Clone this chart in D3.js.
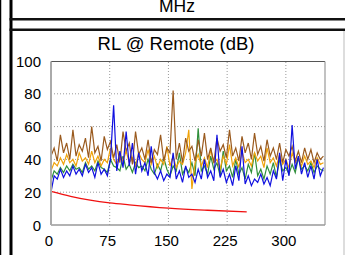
<!DOCTYPE html>
<html>
<head>
<meta charset="utf-8">
<script src="https://cdn.jsdelivr.net/npm/d3@7"></script>
<style>
  body { margin: 0; background: #fff; }
  svg { display: block; font-family: "Liberation Sans", Arial, sans-serif; }
</style>
</head>
<body>
<svg></svg>
<script>
let width = 345;
let height = 255;

// sweep step in MHz, traces start at 0
let step = 4;

let blue = [20,30,28,34,29,33,30,36,31,34,30,37,32,35,29,38,31,34,30,40,73,33,45,35,57,36,50,31,44,33,
    38,30,48,32,28,33,27,31,29,44,28,33,26,36,29,31,26,34,28,40,29,33,27,55,29,34,26,31,24,36,
    27,48,25,30,24,28,26,31,25,29,24,33,28,44,27,40,30,61,34,42,31,38,29,36,28,40,30,35];
let green = [27,33,31,35,32,36,33,37,34,35,32,38,34,36,33,39,35,34,32,40,36,35,33,42,34,37,32,38,35,36,
    33,40,34,31,37,33,41,34,30,36,33,44,31,35,32,38,30,59,33,36,31,42,34,38,30,45,33,36,29,40,
    31,35,28,37,32,44,30,34,28,36,31,38,29,40,33,35,31,37,32,41,34,36,33,38,32,36,34,33];
let orange = [33,38,36,41,37,43,38,40,36,44,39,41,37,45,38,42,36,40,38,47,40,37,43,39,45,38,41,36,44,40,
    38,46,37,42,35,40,37,48,36,42,35,39,37,44,58,22,38,43,36,41,35,46,38,40,34,42,37,49,36,41,
    35,45,38,40,36,44,39,42,35,47,38,41,36,43,37,40,35,44,38,41,36,42,37,39,35,41,37,38];
let brown = [42,47,39,55,44,50,40,58,42,49,45,53,41,60,44,48,39,54,46,51,41,49,38,57,45,50,37,57,43,47,
    40,52,38,46,43,55,39,47,44,82,40,50,38,53,45,48,39,52,42,56,40,47,38,53,45,49,41,58,42,47,
    39,54,44,50,40,56,43,48,39,52,42,47,40,50,38,46,42,48,39,45,38,47,40,46,38,44,40,42];

// limit line
let limitFreq = [0, 25, 50, 75, 100, 150, 200, 250];
let limitVal = [20.5, 17.5, 15.2, 13.5, 12.3, 10.3, 9.0, 8.0];

let xTicks = [0, 75, 150, 225, 300];
let yTicks = [0, 20, 40, 60, 80, 100];

let svg = d3.select('svg')
    .attr('width', width)
    .attr('height', height);

// outer panel frames
svg.append('line').attr('x1', 0.5).attr('x2', 0.5).attr('y1', 0).attr('y2', height)
    .attr('stroke', '#000').attr('stroke-width', 1.5);
svg.append('line').attr('x1', 11).attr('x2', 11).attr('y1', 0).attr('y2', height)
    .attr('stroke', '#000').attr('stroke-width', 3);
svg.append('line').attr('x1', 9.5).attr('x2', width).attr('y1', 19.3).attr('y2', 19.3)
    .attr('stroke', '#111').attr('stroke-width', 2.5);
svg.append('line').attr('x1', 9.5).attr('x2', width).attr('y1', 29.8).attr('y2', 29.8)
    .attr('stroke', '#111').attr('stroke-width', 2.5);
svg.append('line').attr('x1', 344).attr('x2', 344).attr('y1', 31).attr('y2', height)
    .attr('stroke', '#bbb').attr('stroke-width', 1);

svg.append('text')
    .attr('x', 177).attr('y', 12)
    .attr('text-anchor', 'middle')
    .style('font-size', '17.5px')
    .text('MHz');

svg.append('text')
    .attr('x', 176).attr('y', 50)
    .attr('text-anchor', 'middle')
    .style('font-size', '18.5px')
    .text('RL @ Remote (dB)');

let x = d3.scaleLinear().domain([0, 350]).range([51, 325]);
let y = d3.scaleLinear().domain([0, 100]).range([225, 61]);

// dotted grid
let grid = svg.append('g');
grid.selectAll('line.gx')
    .data(xTicks.filter(d => d > 0))
    .enter().append('line')
    .attr('x1', d => x(d)).attr('x2', d => x(d))
    .attr('y1', y(0)).attr('y2', y(100))
    .attr('stroke', '#999').attr('stroke-dasharray', '1,2');
grid.selectAll('line.gy')
    .data(yTicks.filter(d => d > 0 && d < 100))
    .enter().append('line')
    .attr('x1', x(0)).attr('x2', x(350))
    .attr('y1', d => y(d)).attr('y2', d => y(d))
    .attr('stroke', '#999').attr('stroke-dasharray', '1,2');

let line = d3.line()
    .x((d, i) => x(i * step))
    .y(d => y(d));

let traces = [
    {vals: green, color: '#2f8f3a'},
    {vals: orange, color: '#f0a30a'},
    {vals: brown, color: '#9a5a1e'},
    {vals: blue, color: '#1010e0'}
];

svg.append('g').selectAll('path')
    .data(traces)
    .enter().append('path')
    .attr('d', d => line(d.vals))
    .attr('fill', 'none')
    .attr('stroke', d => d.color)
    .attr('stroke-width', 1.2);

let limitLine = d3.line()
    .x((d, i) => x(limitFreq[i]))
    .y(d => y(d))
    .curve(d3.curveMonotoneX);
svg.append('path')
    .attr('d', limitLine(limitVal))
    .attr('fill', 'none')
    .attr('stroke', '#f01010')
    .attr('stroke-width', 1.3);

// plot frame
svg.append('line').attr('x1', x(0)).attr('x2', x(350)).attr('y1', 61.5).attr('y2', 61.5)
    .attr('stroke', '#555').attr('stroke-width', 1);
svg.append('line').attr('x1', x(350)).attr('x2', x(350)).attr('y1', 61.5).attr('y2', y(0))
    .attr('stroke', '#999').attr('stroke-width', 1.2);
svg.append('line').attr('x1', x(0)).attr('x2', x(350)).attr('y1', y(0)).attr('y2', y(0))
    .attr('stroke', '#999').attr('stroke-width', 1.5);
svg.append('line').attr('x1', x(0)).attr('x2', x(0)).attr('y1', 61.5).attr('y2', y(0))
    .attr('stroke', '#aaa').attr('stroke-width', 2);

// tick labels
svg.append('g').selectAll('text')
    .data(yTicks)
    .enter().append('text')
    .attr('x', 41)
    .attr('y', d => y(d) + 5.5)
    .attr('text-anchor', 'end')
    .style('font-size', '15px')
    .text(d => d);

svg.append('g').selectAll('text')
    .data(xTicks)
    .enter().append('text')
    .attr('x', d => x(d) - 2)
    .attr('y', 245.5)
    .attr('text-anchor', 'middle')
    .style('font-size', '15px')
    .text(d => d);
</script>
</body>
</html>
